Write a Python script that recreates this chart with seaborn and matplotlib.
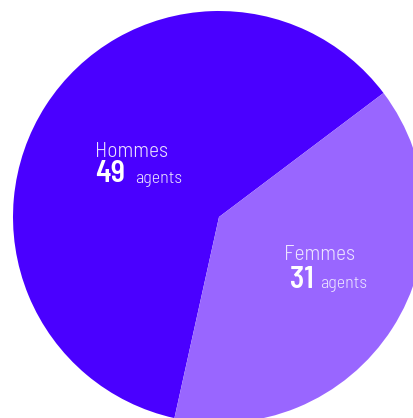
import matplotlib
matplotlib.use("Agg")
import matplotlib.pyplot as plt
import seaborn as sns

# Staff split by gender
categories = ["Hommes", "Femmes"]
counts = [49, 31]
unit = "agents"
colors = ["#4a00ff", "#9966ff"]

sns.set_theme(style="white")
plt.rcParams["font.family"] = ["Barlow Semi Condensed", "DejaVu Sans"]

W, H = 414, 418
fig = plt.figure(figsize=(W / 100, H / 100), dpi=100)
ax = fig.add_axes([0, 0, 1, 1])

palette = sns.color_palette(colors)
ax.pie(counts, colors=palette, startangle=37, counterclock=True,
       center=(219, H - 217), radius=206,
       wedgeprops=dict(linewidth=0, antialiased=True))
ax.set_xlim(0, W)
ax.set_ylim(0, H)
ax.set_aspect("equal")
ax.axis("off")

# Label anchors (pixel coords from the top-left): name, number, unit
label_pos = {
    "Hommes": dict(name=(95, 157), num=(95, 182), unit=(135, 183)),
    "Femmes": dict(name=(284, 260), num=(290, 288), unit=(320, 288)),
}

for cat, n in zip(categories, counts):
    p = label_pos[cat]
    ax.text(p["name"][0], H - p["name"][1], cat, ha="left", va="baseline",
            fontsize=15.5, fontweight=300, color="#ece4ff")
    ax.text(p["num"][0], H - p["num"][1], str(n), ha="left", va="baseline",
            fontsize=21.5, fontweight=600, color="white")
    ax.text(p["unit"][0], H - p["unit"][1], unit, ha="left", va="baseline",
            fontsize=13, fontweight=300, color="#ece4ff")

fig.savefig("out.png", dpi=100)
